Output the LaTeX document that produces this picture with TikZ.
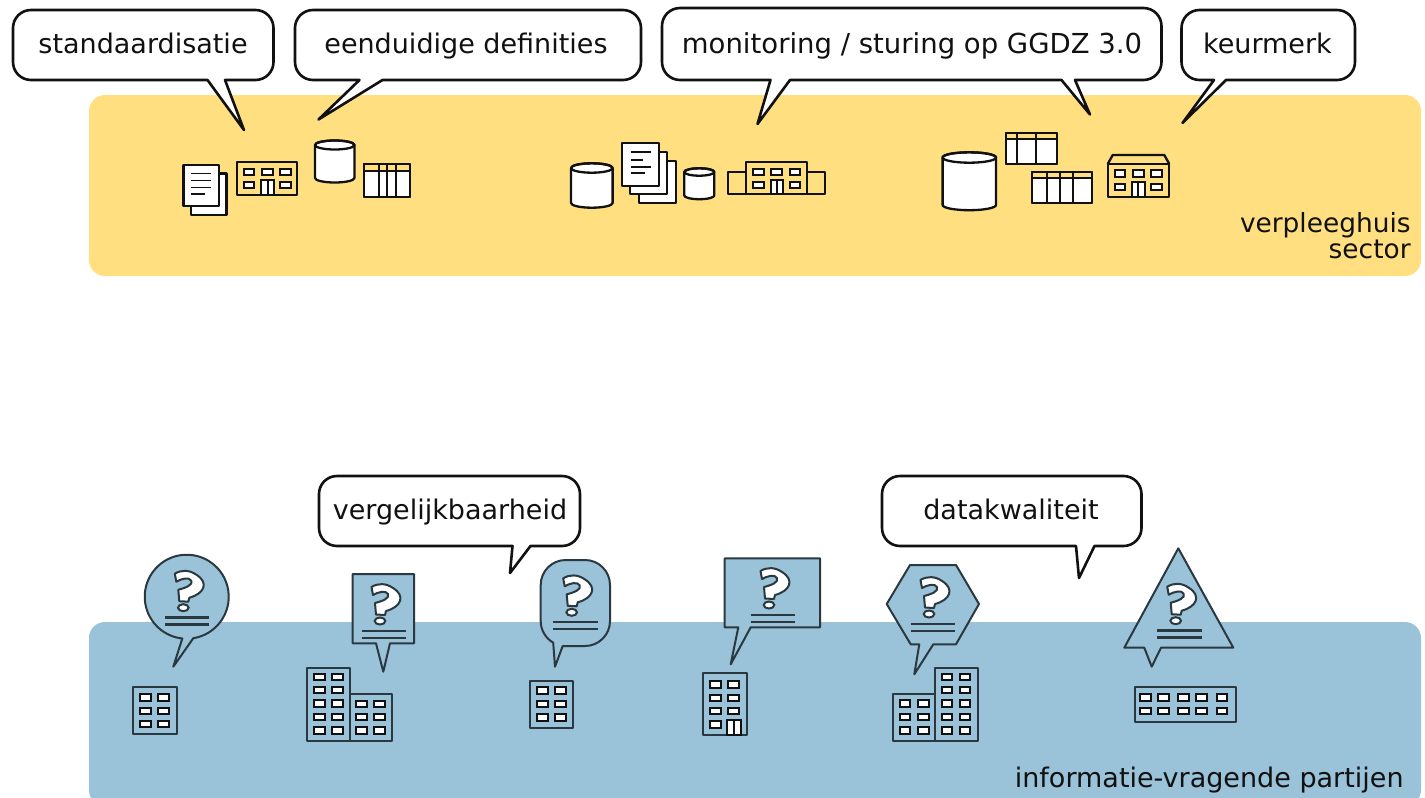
\documentclass[tikz,border=0pt]{standalone}
\usepackage{fontspec}
\setmainfont{DejaVu Sans}
\definecolor{sectoryellow}{HTML}{FFDF7F}
\definecolor{partyblue}{HTML}{9AC2D8}
\definecolor{ink}{HTML}{111111}
\definecolor{slate}{HTML}{2A3840}
\tikzstyle{band} = [rounded corners=8, draw=none]
\tikzstyle{bubble} = [draw=ink, fill=white, line width=1.3pt, line join=round]
\tikzstyle{label} = [font=\fontsize{13.5}{13}\selectfont, text=ink, inner sep=0pt]
\tikzstyle{icon} = [draw=ink, line width=1.15pt, line join=round]
\tikzstyle{win} = [draw=ink, fill=white, line width=1pt]
\tikzstyle{bldg} = [draw=slate, line width=1.05pt, line join=round]
\tikzstyle{ask} = [draw=slate, fill=partyblue, line width=1pt, line join=round]
\newcommand{\speech}[8]{\draw [bubble] (#5,#4) [rounded corners=9] -- (#1,#4) -- (#1,#2) -- (#3,#2) -- (#3,#4) [sharp corners] -- (#6,#4) -- (#7,#8) -- cycle;}
\newcommand{\wins}[2]{\foreach \wx in {#1} \foreach \wy in {#2} \draw [win] (\wx-5.4,\wy-3.2) rectangle (\wx+5.4,\wy+3.2);}
\newcommand{\door}[4]{\draw [win] (#1,#2) rectangle (#3,#4); \draw [win] ({(#1+#3)/2},#2) -- ({(#1+#3)/2},#4);}
\newcommand{\cyl}[5]{\draw [icon, fill=white] (#1-#2,#3) -- (#1-#2,#4) arc [start angle=180, end angle=0, x radius=#2, y radius=#5] -- (#1+#2,#3) arc [start angle=0, end angle=-180, x radius=#2, y radius=#5] -- cycle; \draw [icon] (#1,#3) ellipse [x radius=#2, y radius=#5];}
\newcommand{\sheet}[4]{\draw [icon, fill=white] (#1,#2) rectangle (#3,#4);}
\newcommand{\dtable}[6]{\draw [icon, fill=white] (#1,#2) rectangle (#3,#4); \fill [sectoryellow] (#1,#2) rectangle (#3,#5); \draw [icon] (#1,#2) rectangle (#3,#4); \draw [icon] (#1,#5) -- (#3,#5); \foreach \cx in {#6} \draw [icon] (\cx,#2) -- (\cx,#4);}
\newcommand{\qmark}[2]{\begin{scope}[shift={(#1,#2)}]
	\draw [draw=slate, fill=white, line width=1pt, line join=round] (-8.5,-34) .. controls (-2,-38) and (6,-38) .. (13,-33) .. controls (26,-25) and (21,-14) .. (6,-10) -- (5,-6) -- (-4,-6.5) -- (-5,-18) .. controls (3,-20) and (10,-23) .. (8,-27) .. controls (6,-31) and (-2,-29) .. (-7,-26) -- cycle;
	\draw [draw=slate, fill=white, line width=1pt] (0,0) ellipse [x radius=5.3, y radius=3.5];
	\draw [draw=slate, line width=1.1pt] (-18.3,9.7) -- (26,9.7) (-18.3,16.7) -- (26,16.7);
\end{scope}}

\begin{document}
\begin{tikzpicture}[x=0.5pt, y=-0.5pt]
	\useasboundingbox (0,0) rectangle (1425,798);
	\fill [band, sectoryellow] (89,95) rectangle (1421,276);
	\fill [band, partyblue] (89,622) rectangle (1421,806);

	% top callouts
	\speech{13}{10}{273.5}{80}{207.5}{225}{244}{130}
	\speech{295}{10}{641}{80}{359.5}{382.5}{318.5}{119.5}
	\draw [bubble] (790,80) [sharp corners] -- (1061.5,80) -- (1090,114.5) -- (1075,80) [rounded corners=9] -- (1161.5,80) -- (1161.5,8) -- (662,8) -- (662,80) [sharp corners] -- (770.5,80) -- (757.5,124) -- cycle;
	\speech{1181.5}{10}{1355}{80}{1214}{1226}{1182.5}{123}
	\node (standaard) [label, anchor=base] at (143,53) {standaardisatie};
	\node (definities) [label, anchor=base] at (466,53) {eenduidige definities};
	\node (monitoring) [label, font=\fontsize{13.75}{13}\selectfont, anchor=base] at (912,53) {monitoring / sturing op GGDZ 3.0};
	\node (keurmerk) [label, anchor=base] at (1267.5,53) {keurmerk};

	% first group
	\sheet{191}{173.5}{226.5}{215}
	\sheet{183.5}{165}{219}{206}
	\draw [icon, line width=0.9pt] (190.7,173.5) -- (211,173.5) (190.7,180.5) -- (211,180.5) (190.7,187.5) -- (211,187.5) (190.7,194) -- (205,194);
	\draw [icon] (236.7,161.7) rectangle (297.3,195);
	\wins{249,267.3,285.7}{171.7}
	\wins{249,285.7}{185}
	\door{261}{180}{274}{195}
	\cyl{334.7}{19.7}{145}{178}{4.5}
	\dtable{364.3}{164}{410}{197.3}{170.7}{379,386.7,396}

	% second group
	\cyl{591.8}{20.8}{168}{203}{4.7}
	\sheet{638.7}{160.7}{675.7}{202.7}
	\sheet{630}{152.3}{667.3}{194.3}
	\sheet{622}{143.3}{659.3}{185.7}
	\draw [icon, line width=0.9pt] (630.7,152.3) -- (651,152.3) (630.7,160) -- (642.7,160) (630.7,166.7) -- (651,166.7) (630.7,173.3) -- (645,173.3);
	\cyl{699.3}{15}{172}{195.5}{3.7}
	\draw [icon] (746,172.3) -- (727.7,172.3) -- (727.7,194.3) -- (825,194.3) -- (825,172.3) -- (807.3,172.3);
	\draw [icon] (746,161.7) rectangle (807.3,194.3);
	\wins{758.7,776.7,795}{171.7}
	\wins{758.7,795}{185}
	\door{770.7}{180}{782.7}{194.3}

	% third group
	\cyl{969.3}{26.7}{157.5}{205}{5.2}
	\dtable{1006}{132.7}{1056.7}{164}{139}{1017.3,1036}
	\dtable{1031.7}{172}{1091.7}{203.3}{178.3}{1046.7,1060,1073.3}
	\draw [icon] (1107.7,164) -- (1112.7,155) -- (1164.3,155) -- (1169.3,164);
	\draw [icon] (1107.7,164) rectangle (1169.3,196.7);
	\wins{1120,1138.3,1156.7}{173.3}
	\wins{1120,1156.7}{186.7}
	\door{1131.7}{181.7}{1145}{196.7}

	\node (sectorlabel) [label, font=\fontsize{13.2}{13}\selectfont, anchor=north east, align=right] at (1411,212) {verpleeghuis\\sector};

	% bottom callouts
	\speech{319}{476}{580}{546}{512.5}{530.5}{510}{573}
	\speech{882}{476}{1141.5}{546}{1076}{1094.5}{1079}{578}
	\node (vergelijk) [label, anchor=base] at (450,519) {vergelijkbaarheid};
	\node (datakwal) [label, anchor=base] at (1011,519) {datakwaliteit};

	% question bubbles
	\draw [ask] (173.3,666.7) -- (193.3,638.2) arc [start angle=81, delta angle=-345, radius=42] -- cycle;
	\draw [ask] (376,643.3) -- (352.7,643.3) -- (352.7,574) -- (414,574) -- (414,643.3) -- (390,643.3) -- (383.3,671.7) -- cycle;
	\draw [ask] (555,666.7) -- (562.7,646) -- (585,646) arc [start angle=90, delta angle=-90, radius=25] -- (610,585) arc [start angle=0, delta angle=-90, radius=25] -- (565.7,560) arc [start angle=-90, delta angle=-90, radius=25] -- (540.7,621) arc [start angle=180, delta angle=-60, radius=25] -- cycle;
	\draw [ask] (738.3,627.3) -- (724.7,627.3) -- (724.7,558.3) -- (820,558.3) -- (820,627.3) -- (750.7,627.3) -- (730.7,664.3) -- cycle;
	\draw [ask] (910,565) -- (956,565) -- (979,604) -- (956,644.3) -- (933.3,644.3) -- (914.3,674.3) -- (919.3,644.3) -- (910.7,644.3) -- (886.7,604) -- cycle;
	\draw [ask] (1178.3,548.3) -- (1233.3,647.7) -- (1161,647.7) -- (1151.7,666.7) -- (1144.3,647.7) -- (1124.3,647.7) -- cycle;
	\qmark{183.3}{607.7}
	\qmark{380}{621}
	\qmark{571.7}{612.3}
	\qmark{769}{605}
	\qmark{929}{614}
	\qmark{1175.7}{620.7}

	% buildings
	\draw [bldg] (133.3,687.3) rectangle (176.7,734.3);
	\wins{145.7,163.7}{697.3,710.7,724}
	\draw [bldg] (307.3,667.7) rectangle (350,740.7);
	\draw [bldg] (350,694) rectangle (392,740.7);
	\wins{319.3,337.3}{676.7,690,703.3,717,730.3}
	\wins{361.3,379.3}{703.7,717,730.3}
	\draw [bldg] (530,680.7) rectangle (573.3,727.7);
	\wins{542.3,560.7}{690.3,704,717.3}
	\draw [bldg] (703.3,673.3) rectangle (746.7,735);
	\wins{715.7,733.7}{684.3,697.7,711}
	\wins{715.7}{724.3}
	\door{727.3}{720}{740.7}{735}
	\draw [bldg] (892.7,694) rectangle (935,740.7);
	\draw [bldg] (935,667.7) rectangle (977.7,740.7);
	\wins{905,923.3}{703.3,716.7,730.3}
	\wins{947,965}{676.7,690,703.3,716.7,730.3}
	\draw [bldg] (1135,686.7) rectangle (1235.7,722);
	\wins{1145.3,1163.3,1183.3,1201.7,1222}{697.3,710.7}

	\node (partijen) [label, anchor=base east] at (1404,787) {informatie-vragende partijen};
\end{tikzpicture}
\end{document}
